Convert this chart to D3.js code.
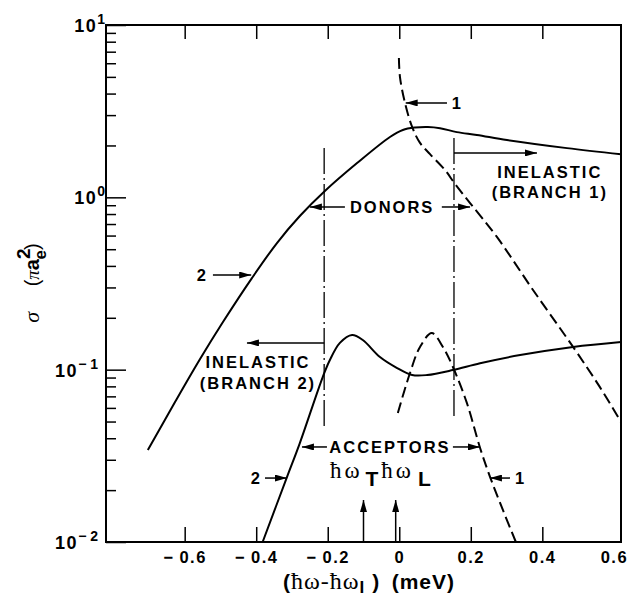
<!DOCTYPE html>
<html lang="en">
<head>
    <meta charset="UTF-8">
    <title>Cross section vs photon energy</title>
    <script src="https://d3js.org/d3.v7.min.js"></script>
    <style>
        body { margin: 0; background: #fff; }
        svg text { font-family: "Liberation Sans", Arial, sans-serif; font-weight: bold; fill: #000; }
        .serif { font-family: "Liberation Serif", "DejaVu Serif", serif; font-weight: normal; }
        .lbl { font-size: 16.5px; letter-spacing: 2px; }
    </style>
</head>
<body>
<script>
    // x tick values (meV) and y decades
    var xTickValues = [-0.6, -0.4, -0.2, 0, 0.2, 0.4, 0.6];
    var yDecades = [0.01, 0.1, 1, 10];
    var yExponents = ["\u2212 2", "\u2212 1", "0", "1"];

    // branch 2, donor region (upper solid curve)
    var donor2X = [-0.703, -0.627, -0.557, -0.493, -0.412, -0.342, -0.278, -0.208, -0.118, -0.026, 0.010, 0.044, 0.080, 0.114, 0.161, 0.217, 0.301, 0.469, 0.620];
    var donor2Y = [0.0342, 0.0649, 0.1153, 0.189, 0.340, 0.543, 0.779, 1.088, 1.58, 2.24, 2.46, 2.54, 2.56, 2.52, 2.39, 2.30, 2.15, 1.93, 1.78];

    // branch 1, donor region (upper dashed curve)
    var donor1X = [-0.001, 0.002, 0.016, 0.036, 0.058, 0.086, 0.128, 0.156, 0.198, 0.273, 0.374, 0.486, 0.561, 0.620];
    var donor1Y = [6.44, 4.99, 3.53, 2.56, 2.07, 1.78, 1.44, 1.195, 0.927, 0.589, 0.290, 0.1355, 0.0792, 0.0497];

    // branch 2, acceptor region (lower solid curve)
    var acceptor2X = [-0.382, -0.314, -0.278, -0.214, -0.194, -0.166, -0.132, -0.102, -0.054, -0.006, 0.036, 0.078, 0.150, 0.226, 0.338, 0.486, 0.620];
    var acceptor2Y = [0.010, 0.0238, 0.0375, 0.0906, 0.1137, 0.143, 0.159, 0.1486, 0.1184, 0.1022, 0.0931, 0.0931, 0.0995, 0.109, 0.1216, 0.1355, 0.1448];

    // branch 1, acceptor region (lower dashed curve)
    var acceptor1X = [-0.004, 0.030, 0.058, 0.091, 0.122, 0.150, 0.189, 0.226, 0.254, 0.290, 0.326];
    var acceptor1Y = [0.0561, 0.0957, 0.1355, 0.163, 0.1355, 0.1036, 0.0641, 0.0351, 0.0238, 0.0153, 0.010];

    // donor / acceptor region limits and the two phonon energies
    var donorEdges = [-0.21, 0.153];
    var edgeTop = [1.93, 2.21];
    var edgeBottom = [0.0465, 0.0538];
    var phononX = [-0.10, -0.01];

    var w = 632;
    var h = 600;

    var x = d3.scaleLinear()
            .domain([-0.82, 0.62])
            .range([106, 621]);

    var y = d3.scaleLog()
            .domain([0.01, 10])
            .range([542, 25]);

    var svg = d3.select("body")
            .append("svg")
            .attr("width", w)
            .attr("height", h);

    var defs = svg.append("defs");
    defs.append("marker")
        .attr("id", "head")
        .attr("viewBox", "0 0 12 7")
        .attr("refX", 12)
        .attr("refY", 3.5)
        .attr("markerWidth", 12)
        .attr("markerHeight", 7)
        .attr("markerUnits", "userSpaceOnUse")
        .attr("orient", "auto")
        .append("path")
        .attr("d", "M0,0 L12,3.5 L0,7 z")
        .attr("fill", "#000");

    // bottom axis, ticks pointing in
    var xAxis = svg.append("g")
        .attr("transform", "translate(0," + y(0.01) + ")")
        .call(d3.axisBottom(x)
            .tickValues(xTickValues)
            .tickSize(-15)
            .tickSizeOuter(0)
            .tickPadding(9)
            .tickFormat(function(d) { return d < 0 ? "\u2212\u2009" + Math.abs(d) : d; }));
    xAxis.select(".domain").remove();
    xAxis.selectAll("line").attr("stroke-width", 1.5)
        .filter(function(d) { return d === 0.6; }).remove();
    xAxis.selectAll("text").style("font-size", "16.5px").style("letter-spacing", "1.5px");

    // top axis, ticks only
    var topAxis = svg.append("g")
        .attr("transform", "translate(0," + y(10) + ")")
        .call(d3.axisTop(x)
            .tickValues(xTickValues.slice(0, 6))
            .tickSize(-14)
            .tickSizeOuter(0)
            .tickFormat(""));
    topAxis.select(".domain").remove();
    topAxis.selectAll("line").attr("stroke-width", 1.5);

    // left axis: minor and major log ticks
    var minor = y.ticks().filter(function(d) { return yDecades.indexOf(d) < 0; });
    var leftMinor = svg.append("g")
        .attr("transform", "translate(" + x(-0.82) + ",0)")
        .call(d3.axisLeft(y).tickValues(minor).tickSize(-10).tickSizeOuter(0).tickFormat(""));
    leftMinor.select(".domain").remove();
    leftMinor.selectAll("line").attr("stroke-width", 1.5);

    var leftMajor = svg.append("g")
        .attr("transform", "translate(" + x(-0.82) + ",0)")
        .call(d3.axisLeft(y).tickValues(yDecades).tickSize(-20).tickSizeOuter(0).tickFormat(""));
    leftMajor.select(".domain").remove();
    leftMajor.selectAll("line").attr("stroke-width", 1.5);

    // y tick labels with exponents
    yDecades.forEach(function(d, i) {
        var neg = yExponents[i].charAt(0) === "\u2212";
        var t = svg.append("text")
            .attr("x", neg ? 98 : 105)
            .attr("y", y(d) + 7)
            .attr("text-anchor", "end")
            .style("font-size", "18px");
        t.append("tspan").style("letter-spacing", "1.5px").text("10");
        t.append("tspan").attr("dy", -8).style("font-size", "14px").text(yExponents[i]);
    });

    // frame
    svg.append("rect")
        .attr("x", x(-0.82))
        .attr("y", y(10))
        .attr("width", x(0.62) - x(-0.82))
        .attr("height", y(0.01) - y(10))
        .attr("fill", "none")
        .attr("stroke", "#000")
        .attr("stroke-width", 2);

    // curves
    var line = d3.line()
        .x(function(d) { return x(d[0]); })
        .y(function(d) { return y(d[1]); })
        .curve(d3.curveCatmullRom.alpha(0.5));

    function pairs(xs, ys) {
        return xs.map(function(v, i) { return [v, ys[i]]; });
    }

    var curves = [
        {pts: pairs(donor2X, donor2Y), dash: null},
        {pts: pairs(donor1X, donor1Y), dash: "11,5"},
        {pts: pairs(acceptor2X, acceptor2Y), dash: null},
        {pts: pairs(acceptor1X, acceptor1Y), dash: "11,5"}
    ];

    svg.selectAll("path.curve")
        .data(curves)
        .enter()
        .append("path")
        .attr("class", "curve")
        .attr("d", function(d) { return line(d.pts); })
        .attr("fill", "none")
        .attr("stroke", "#000")
        .attr("stroke-width", 2)
        .attr("stroke-dasharray", function(d) { return d.dash; });

    // dash-dot region limits
    svg.selectAll("line.edge")
        .data(donorEdges)
        .enter()
        .append("line")
        .attr("class", "edge")
        .attr("x1", function(d) { return x(d); })
        .attr("x2", function(d) { return x(d); })
        .attr("y1", function(d, i) { return y(edgeTop[i]); })
        .attr("y2", function(d, i) { return y(edgeBottom[i]); })
        .attr("stroke", "#000")
        .attr("stroke-width", 1.3)
        .attr("stroke-dasharray", "26,4,2,4");

    // arrows
    function arrow(x1, y1, x2, y2) {
        svg.append("line")
            .attr("x1", x(x1)).attr("y1", y(y1))
            .attr("x2", x(x2)).attr("y2", y(y2))
            .attr("stroke", "#000")
            .attr("stroke-width", 1.5)
            .attr("marker-end", "url(#head)");
    }

    function label(xv, yv, txt, anchor, dy) {
        return svg.append("text")
            .attr("class", "lbl")
            .attr("x", x(xv))
            .attr("y", y(yv))
            .attr("dy", dy == null ? 6 : dy)
            .attr("text-anchor", anchor)
            .text(txt);
    }

    // curve number labels
    arrow(-0.521, 0.354, -0.414, 0.354);
    label(-0.535, 0.354, "2", "end");
    arrow(0.1334, 3.53, 0.018, 3.53);
    label(0.147, 3.53, "1", "start");
    arrow(-0.3755, 0.0235, -0.314, 0.0235);
    label(-0.3837, 0.0235, "2", "end");
    arrow(0.3096, 0.0235, 0.2536, 0.0235);
    label(0.3236, 0.0235, "1", "start");

    // inelastic branch 1
    arrow(donorEdges[1], 1.81, 0.385, 1.81);
    label(0.421, 1.295, "INELASTIC", "middle", 0);
    label(0.421, 1.295, "(BRANCH 1)", "middle", 20);

    // inelastic branch 2
    arrow(donorEdges[0], 0.143, -0.4259, 0.143);
    label(-0.395, 0.1023, "INELASTIC", "middle", 0);
    label(-0.395, 0.1023, "(BRANCH 2)", "middle", 21);

    // donors
    arrow(-0.152, 0.879, -0.250, 0.879);
    label(-0.020, 0.879, "DONORS", "middle");
    arrow(0.119, 0.879, 0.198, 0.879);

    // acceptors
    arrow(-0.2022, 0.0356, -0.2721, 0.0356);
    label(-0.026, 0.0356, "ACCEPTORS", "middle");
    arrow(0.150, 0.0356, 0.2257, 0.0356);

    // phonon energies
    phononX.forEach(function(d) {
        arrow(d, 0.01, d, 0.01752);
    });
    var hw = svg.append("text")
        .attr("x", x(-0.194))
        .attr("y", y(0.0235));
    hw.append("tspan").attr("class", "serif").style("font-size", "23px").style("letter-spacing", "3px").text("\u0127\u03C9");
    hw.append("tspan").attr("dy", 8).attr("dx", 3).style("font-size", "21px").text("T");
    hw.append("tspan").attr("dy", -8).attr("dx", 3).attr("class", "serif").style("font-size", "23px").style("letter-spacing", "3px").text("\u0127\u03C9");
    hw.append("tspan").attr("dy", 8).attr("dx", 4).style("font-size", "21px").text("L");

    // axis titles
    var xt = svg.append("text")
        .attr("x", 369)
        .attr("y", 589)
        .attr("text-anchor", "middle")
        .style("font-size", "21px")
        .style("letter-spacing", "1px");
    xt.append("tspan").text("(");
    xt.append("tspan").attr("class", "serif").style("font-size", "24px").text("\u0127\u03C9-\u0127\u03C9");
    xt.append("tspan").attr("dy", 4).style("font-size", "17px").text("I");
    xt.append("tspan").attr("dy", -4).text(" )\u2002(meV)");

    var yt = svg.append("text")
        .attr("transform", "translate(39,283) rotate(-90)")
        .attr("text-anchor", "middle")
        .style("font-size", "20px");
    yt.append("tspan").attr("class", "serif").style("font-style", "italic").style("font-size", "22px").text("\u03C3");
    yt.append("tspan").style("font-weight", "normal").text("\u2003 (");
    yt.append("tspan").attr("class", "serif").style("font-style", "italic").style("font-size", "19px").text("\u03C0");
    yt.append("tspan").text("a");
    yt.append("tspan").attr("dy", -9).style("font-size", "19px").text("2");
    yt.append("tspan").attr("dx", -11).attr("dy", 16).style("font-size", "17px").text("e");
    yt.append("tspan").attr("dy", -7).style("font-weight", "normal").text(")");
</script>
</body>
</html>
